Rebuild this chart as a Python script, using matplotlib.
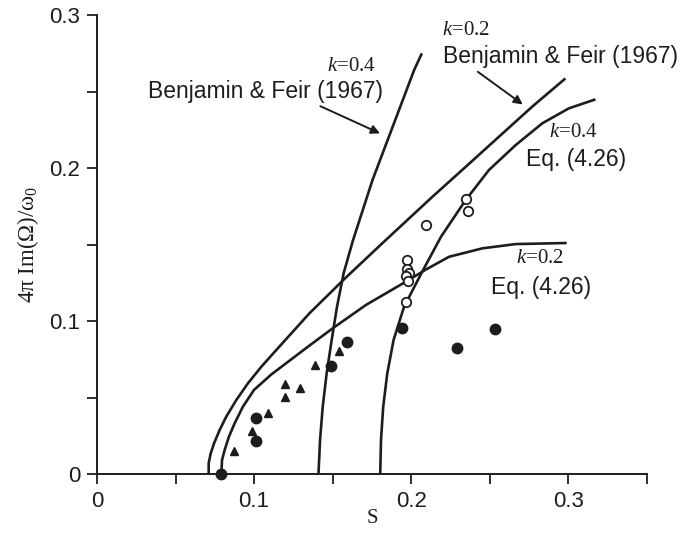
import matplotlib
matplotlib.use("Agg")
import matplotlib.pyplot as plt

plt.rcParams['mathtext.fontset'] = 'custom'
plt.rcParams['mathtext.rm'] = 'Liberation Serif'
plt.rcParams['mathtext.it'] = 'Liberation Serif:italic'

INK = '#1f1c1d'

# Theory curves
bf02_s = [0.0711, 0.0711, 0.0724, 0.0745, 0.0781, 0.0823, 0.0887, 0.0961, 0.1046, 0.1141,
          0.1352, 0.1575, 0.1818, 0.2135, 0.2347, 0.2559, 0.2770, 0.2982]
bf02_v = [0.0, 0.0070, 0.0135, 0.0200, 0.0288, 0.0375, 0.0484, 0.0593, 0.0701, 0.0810,
          0.1050, 0.1275, 0.1510, 0.1812, 0.2008, 0.2205, 0.2401, 0.2586]

eq02_s = [0.0792, 0.0796, 0.0813, 0.0840, 0.0876, 0.0929, 0.0999, 0.1109, 0.1340,
          0.1500, 0.1712, 0.1966, 0.2093, 0.2241, 0.2453, 0.2665, 0.2990]
eq02_v = [0.0, 0.0092, 0.0157, 0.0244, 0.0331, 0.0440, 0.0549, 0.0650, 0.0830,
          0.0952, 0.1105, 0.1257, 0.1336, 0.1420, 0.1475, 0.1503, 0.1510]

bf04_s = [0.1410, 0.1420, 0.1437, 0.1462, 0.1494, 0.1528, 0.1570, 0.1630, 0.1754, 0.2019, 0.2068]
bf04_v = [0.0, 0.0222, 0.0440, 0.0658, 0.0876, 0.1094, 0.1312, 0.1529, 0.1922, 0.2641, 0.2750]

eq04_s = [0.1803, 0.1808, 0.1822, 0.1848, 0.1888, 0.1955, 0.2065, 0.2190, 0.2347, 0.2495,
          0.2665, 0.2834, 0.3003, 0.3173]
eq04_v = [0.0, 0.0222, 0.0440, 0.0658, 0.0876, 0.1094, 0.1312, 0.1551, 0.1791, 0.1987,
          0.2150, 0.2292, 0.2390, 0.2449]

# Experimental points
filled_s = [0.0792, 0.1014, 0.1014, 0.1490, 0.1590, 0.1940, 0.2290, 0.2535]
filled_v = [0.0, 0.0364, 0.0218, 0.0706, 0.0863, 0.0952, 0.0826, 0.0948]

tri_s = [0.0872, 0.0988, 0.1090, 0.1196, 0.1196, 0.1293, 0.1389, 0.1540]
tri_v = [0.0152, 0.0283, 0.0397, 0.0501, 0.0586, 0.0562, 0.0710, 0.0804]

open_s = [0.2351, 0.2362, 0.2093, 0.1973, 0.1973, 0.1987, 0.1966, 0.1977, 0.1966]
open_v = [0.1795, 0.1719, 0.1627, 0.1399, 0.1340, 0.1316, 0.1294, 0.1261, 0.1122]

xticks = [0, 0.05, 0.1, 0.15, 0.2, 0.25, 0.3, 0.35]
xticklabels = ['0', '', '0.1', '', '0.2', '', '0.3', '']
yticks = [0, 0.05, 0.1, 0.15, 0.2, 0.25, 0.3]
yticklabels = ['0', '', '0.1', '', '0.2', '', '0.3']

fig = plt.figure(figsize=(6.83, 5.33), dpi=100)
ax = fig.add_axes([0.142, 0.1107, 0.805, 0.861])

lw = 1.9
for s, v in [(bf02_s, bf02_v), (eq02_s, eq02_v), (bf04_s, bf04_v), (eq04_s, eq04_v)]:
    ax.plot(s, v, color=INK, lw=lw, solid_joinstyle='round', solid_capstyle='butt', zorder=2)

ax.plot(filled_s, filled_v, 'o', color=INK, ms=7.5, mec=INK, zorder=4, clip_on=False)
ax.plot(tri_s, tri_v, '^', color=INK, ms=5.5, mec=INK, zorder=4)
ax.plot(open_s, open_v, 'o', mfc='white', mec=INK, ms=6.8, mew=1.3, zorder=5)

ax.set_xlim(0, 0.35)
ax.set_ylim(0, 0.3)
ax.spines['top'].set_visible(False)
ax.spines['right'].set_visible(False)
for sp in ['left', 'bottom']:
    ax.spines[sp].set_linewidth(1.4)
    ax.spines[sp].set_color(INK)

ax.set_xticks(xticks)
ax.set_xticklabels(xticklabels)
ax.set_yticks(yticks)
ax.set_yticklabels(yticklabels)
ax.tick_params(direction='out', length=7, width=1.3, color=INK, labelcolor=INK,
               labelsize=16, pad=5)
for lab in ax.get_xticklabels() + ax.get_yticklabels():
    lab.set_fontfamily('Liberation Sans')

ax.set_xlabel('S', fontfamily='Liberation Serif', fontsize=15, color=INK, labelpad=-2)
ax.set_ylabel('4π Im(Ω)/ω$_0$', fontfamily='Liberation Serif', fontsize=16.5, color=INK, labelpad=6)

sans = dict(fontfamily='Liberation Sans', fontsize=16.5, color=INK)
serif = dict(fontfamily='Liberation Serif', fontsize=15, color=INK)

ax.text(0.1465, 0.2665, '$k$=0.4', ha='left', va='center', **serif)
ax.text(0.0325, 0.2500, 'Benjamin & Feir (1967)', ha='left', va='center', **sans)
ax.annotate('', xy=(0.1818, 0.2219), xytext=(0.1406, 0.2412),
            arrowprops=dict(arrowstyle='-|>', color=INK, lw=1.4, mutation_scale=13))

ax.text(0.2198, 0.2900, '$k$=0.2', ha='left', va='center', **serif)
ax.text(0.2200, 0.2730, 'Benjamin & Feir (1967)', ha='left', va='center', **sans)
ax.annotate('', xy=(0.2725, 0.2405), xytext=(0.2410, 0.2640),
            arrowprops=dict(arrowstyle='-|>', color=INK, lw=1.4, mutation_scale=13))

ax.text(0.2880, 0.2235, '$k$=0.4', ha='left', va='center', **serif)
ax.text(0.2728, 0.2053, 'Eq. (4.26)', ha='left', va='center', **sans)

ax.text(0.2665, 0.1412, '$k$=0.2', ha='left', va='center', **serif)
ax.text(0.2507, 0.1222, 'Eq. (4.26)', ha='left', va='center', **sans)

fig.savefig('out.png', dpi=100)
